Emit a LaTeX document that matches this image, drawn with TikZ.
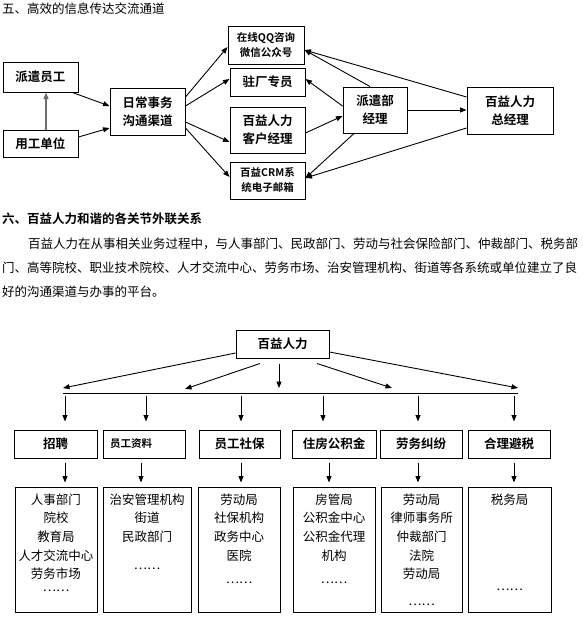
\documentclass[tikz,border=0pt]{standalone}
\usepackage{fontspec}
\setmainfont{Noto Sans CJK SC}[BoldFont={Noto Sans CJK SC Bold}]
\usetikzlibrary{arrows.meta,calc}
\begin{document}
\begin{tikzpicture}[x=1pt,y=-1pt,
    box/.style={draw,line width=1pt,inner sep=0pt,align=center,
      font=\bfseries\fontsize{12.5}{18}\selectfont},
    small/.style={font=\bfseries\fontsize{10.5}{15}\selectfont},
    lbox/.style={draw,line width=1pt,inner sep=0pt,minimum height=125pt},
    list/.style={align=center,inner sep=0pt,anchor=north,
      font=\fontsize{12.5}{18.6}\selectfont},
    dots/.style={inner sep=0pt,font=\fontsize{12.5}{15}\selectfont},
    arr/.style={-{Triangle[length=6.5pt,width=5pt]},line width=0.9pt},
    txt/.style={anchor=west,inner sep=0pt,font=\fontsize{12.5}{15}\selectfont}]
      \useasboundingbox (0,0) rectangle (582,627);
      \node[txt] (head5) at (2,9) {五、高效的信息传达交流通道};
      \node[box,minimum width=75pt,minimum height=30pt] (yg) at (40.5,77) {派遣员工};
      \node[box,minimum width=75pt,minimum height=27pt] (yd) at (40.5,143.5) {用工单位};
      \node[box,minimum width=75pt,minimum height=47pt] (rc) at (147.5,111.5) {日常事务\\沟通渠道};
      \node[box,small,minimum width=76pt,minimum height=38pt] (qq) at (266,45) {在线QQ咨询\\微信公众号};
      \node[box,minimum width=75pt,minimum height=28pt] (zc) at (267.5,82) {驻厂专员};
      \node[box,minimum width=75pt,minimum height=46pt] (kh) at (267.5,130) {百益人力\\客户经理};
      \node[box,small,minimum width=75pt,minimum height=37pt] (crm) at (267.5,180.5) {百益CRM系\\统电子邮箱};
      \node[box,minimum width=64pt,minimum height=46pt] (pq) at (375,110) {派遣部\\经理};
      \node[box,minimum width=86pt,minimum height=47pt] (zjl) at (510,110.5) {百益人力\\总经理};
      \draw[arr,gray!85!black,line width=1.3pt] ($(yd.north)+(5.5,0)$) -- ($(yg.south)+(5.5,0)$);
      \begin{scope}[arr]
        \draw ($(yg.south east)+(-6,0)$) -- ($(rc.west)+(0,-5.5)$);
        \draw ($(yd.east)+(0,-6.5)$) -- ($(rc.west)+(0,16.5)$);
        \draw ($(rc.east)+(0,-14.5)$) -- ($(qq.west)+(0,2)$);
        \draw ($(rc.east)+(0,-5.5)$) -- ($(zc.west)+(0,-3)$);
        \draw ($(rc.east)+(0,10.5)$) -- ($(kh.west)+(0,12)$);
        \draw ($(rc.east)+(0,16.5)$) -- ($(crm.west)+(0,-3.5)$);
        \draw ($(pq.north)+(-5,0)$) -- ($(qq.east)+(0,5)$);
        \draw ($(pq.west)+(0,-4)$) -- ($(zc.east)+(0,-3)$);
        \draw ($(kh.east)+(0,3)$) -- ($(pq.west)+(0,6)$);
        \draw ($(pq.south)+(-21,0)$) -- ($(crm.east)+(0,-2.5)$);
        \draw (pq.east) -- (pq.east -| zjl.west);
        \draw ($(zjl.west)+(0,-13.5)$) -- ($(qq.east)+(0,5)$);
        \draw ($(zjl.west)+(0,17.5)$) -- ($(crm.east)+(0,-2.5)$);
      \end{scope}
      \node[txt,font=\bfseries\fontsize{12.5}{15}\selectfont] (head6) at (2,219) {六、百益人力和谐的各关节外联关系};
      \node[txt] (p1) at (28,244) {百益人力在从事相关业务过程中，与人事部门、民政部门、劳动与社会保险部门、仲裁部门、税务部};
      \node[txt] (p2) at (2,268) {门、高等院校、职业技术院校、人才交流中心、劳务市场、治安管理机构、街道等各系统或单位建立了良};
      \node[txt] (p3) at (2,292) {好的沟通渠道与办事的平台。};
      \node[box,minimum width=93pt,minimum height=28pt] (byrl) at (282.5,344) {百益人力};
      \coordinate (hl) at (63,393);
      \coordinate (hr) at (518,393);
      \draw[line width=0.9pt] (hl) -- (hr);
      \node[box,minimum width=83pt,minimum height=28pt] (c1) at (55.5,444) {招聘};
      \node[box,small,minimum width=82pt,minimum height=28pt,text width=68pt,align=left] (c2) at (144,444) {员工资料};
      \node[box,minimum width=81pt,minimum height=28pt] (c3) at (239.5,444) {员工社保};
      \node[box,minimum width=84pt,minimum height=28pt] (c4) at (334,444) {住房公积金};
      \node[box,minimum width=82pt,minimum height=28pt] (c5) at (421,444) {劳务纠纷};
      \node[box,minimum width=82pt,minimum height=28pt] (c6) at (509,444) {合理避税};
      \node[lbox,minimum width=82pt] (l1) at (56,549.5) {};
      \node[lbox,minimum width=88pt] (l2) at (147,549.5) {};
      \node[lbox,minimum width=82pt] (l3) at (239,549.5) {};
      \node[lbox,minimum width=82pt] (l4) at (334,549.5) {};
      \node[lbox,minimum width=81pt] (l5) at (421.5,549.5) {};
      \node[lbox,minimum width=83pt] (l6) at (509.5,549.5) {};
      \node[list] (t1) at ($(l1.north)+(0,7)$) {人事部门\\院校\\教育局\\人才交流中心\\劳务市场};
      \node[list] (t2) at ($(l2.north)+(0,7)$) {治安管理机构\\街道\\民政部门};
      \node[list] (t3) at ($(l3.north)+(0,7)$) {劳动局\\社保机构\\政务中心\\医院};
      \node[list] (t4) at ($(l4.north)+(0,7)$) {房管局\\公积金中心\\公积金代理\\机构};
      \node[list] (t5) at ($(l5.north)+(0,7)$) {劳动局\\律师事务所\\仲裁部门\\法院\\劳动局};
      \node[list] (t6) at ($(l6.north)+(0,7)$) {税务局};
      \node[dots] (d1) at (56,591) {……};
      \node[dots] (d2) at (147,569) {……};
      \node[dots] (d3) at (239,583) {……};
      \node[dots] (d4) at (334,583) {……};
      \node[dots] (d5) at (421.5,605) {……};
      \node[dots] (d6) at (509.5,590) {……};
      \begin{scope}[arr]
        \draw ($(byrl.west)+(0,9)$) -- ($(hl)+(0,-5)$);
        \draw ($(byrl.south)+(-22.5,5)$) -- ($(hl)+(122,-4)$);
        \draw ($(byrl.south)+(-3.5,5)$) -- ($(hl)+(216,-5)$);
        \draw ($(byrl.south)+(34.5,5)$) -- ($(hl)+(329,-5)$);
        \draw ($(byrl.east)+(0,8)$) -- ($(hr)+(0,-5)$);
        \foreach \n/\dx in {1/9.5,2/2,3/1.5,4/-11,5/-3,6/5}
          \draw ($(c\n.north)+(\dx,-34)$) -- ($(c\n.north)+(\dx,-8)$);
        \foreach \n/\dx in {1/9,2/-6,3/2,4/-5,5/-3.5,6/4.5}
          \draw ($(l\n.north)+(\dx,-24)$) -- ($(l\n.north)+(\dx,-4)$);
      \end{scope}
    \end{tikzpicture}
\end{document}
